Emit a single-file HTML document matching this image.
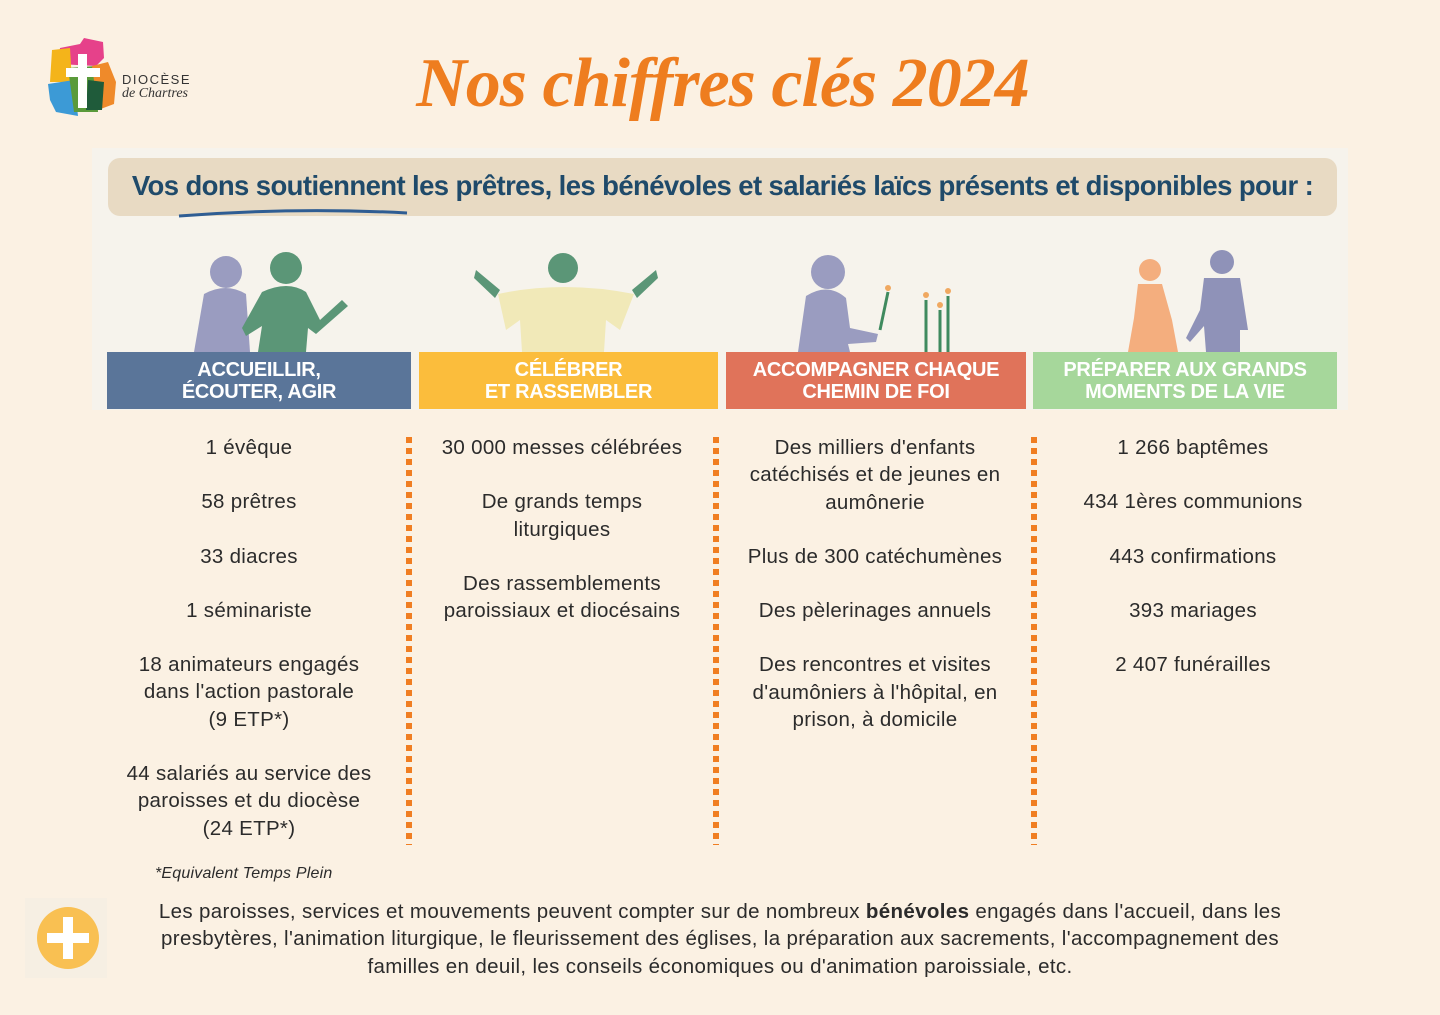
<!DOCTYPE html>
<html><head><meta charset="utf-8"><style>
body{margin:0;width:1440px;height:1015px;background:#fbf1e3;position:relative;overflow:hidden;font-family:"Liberation Sans",sans-serif;color:#2b2b2b}
.a{position:absolute}
.col{position:absolute;top:434px;text-align:center;font-size:20.5px;line-height:27.3px;letter-spacing:0.3px}
.col p{margin:0 0 27px 0}
.ban{position:absolute;top:352px;height:57px;color:#fff;font-weight:bold;font-size:20px;line-height:22px;text-align:center;display:flex;align-items:center;justify-content:center;letter-spacing:-0.3px}
.dot{position:absolute;top:437px;height:408px;width:6px;background:repeating-linear-gradient(#f07e22 0 6px,transparent 6px 11px)}
</style></head><body>
<!-- logo -->
<svg class="a" style="left:48px;top:38px" width="72" height="80">
<path d="M12 10 L32 6 L36 0 L55 4 L56 20 L48 28 L10 26Z" fill="#e6418a"/>
<path d="M4 12 L22 10 L24 44 L2 44Z" fill="#f4b41a"/>
<path d="M0 46 L26 42 L30 78 L8 74 L2 62Z" fill="#3c9ad6"/>
<path d="M20 30 L48 28 L50 74 L26 74Z" fill="#5a9a3a"/>
<path d="M44 28 L60 24 L68 44 L66 66 L50 72Z" fill="#ef8a2a"/>
<path d="M40 42 L56 44 L54 72 L38 72Z" fill="#1f5b3a"/>
<rect x="30" y="16" width="9" height="54" fill="#fff"/><rect x="18" y="30" width="34" height="9" fill="#fff"/>
</svg>
<div class="a" style="left:122px;top:72px;font-size:13px;letter-spacing:1.5px;color:#333">DIOCÈSE</div>
<div class="a" style="left:122px;top:86px;font-size:14px;font-style:italic;font-family:'Liberation Serif',serif;color:#333">de Chartres</div>
<div class="a" style="left:400px;top:44px;width:645px;text-align:center;font-family:'Liberation Serif',serif;font-weight:bold;font-style:italic;font-size:70px;color:#ee7d1f;letter-spacing:-1px">Nos chiffres clés 2024</div>
<!-- panel -->
<div class="a" style="left:92px;top:148px;width:1256px;height:262px;background:#f6f3ec"></div>
<div class="a" style="left:108px;top:158px;width:1229px;height:58px;background:#e8dac3;border-radius:12px"></div>
<div class="a" style="left:108px;top:170px;width:1229px;text-align:center;font-size:27.5px;font-weight:bold;color:#1f4a6a;letter-spacing:-0.6px">Vos dons soutiennent les prêtres, les bénévoles et salariés laïcs présents et disponibles pour :</div>
<svg class="a" style="left:175px;top:205px" width="240" height="16"><path d="M4 11 Q120 2 232 8" stroke="#2f5d93" stroke-width="3" fill="none"/></svg>
<!-- figures -->
<svg class="a" style="left:0;top:230px" width="1440" height="122">
<g fill="#9a9cc0"><circle cx="226" cy="42" r="16"/><path d="M204 64 Q226 52 246 64 L250 122 L194 122Z"/></g>
<g fill="#5b9677"><circle cx="286" cy="38" r="16"/><path d="M262 62 Q288 50 306 62 L320 90 L342 70 L348 76 L316 104 L308 98 L306 122 L258 122 L262 96 L246 106 L242 98Z"/></g>
<g fill="#5b9677"><circle cx="563" cy="38" r="15"/><path d="M476 40 L500 60 L495 68 L474 48Z"/><path d="M656 40 L632 60 L637 68 L658 48Z"/></g>
<path d="M498 64 Q563 50 634 64 L620 100 L606 90 L604 122 L522 122 L520 90 L506 100Z" fill="#f1e9b8"/>
<g fill="#9a9cc0"><circle cx="828" cy="42" r="17"/><path d="M806 66 Q828 52 846 68 L850 98 L878 104 L876 112 L848 114 L850 122 L798 122Z"/></g>
<g stroke="#3f8a5e" stroke-width="3"><line x1="880" y1="100" x2="888" y2="62"/><line x1="926" y1="122" x2="926" y2="70"/><line x1="940" y1="122" x2="940" y2="80"/><line x1="948" y1="122" x2="948" y2="66"/></g>
<g fill="#f0a860"><circle cx="888" cy="58" r="3"/><circle cx="926" cy="65" r="3"/><circle cx="940" cy="75" r="3"/><circle cx="948" cy="61" r="3"/></g>
<g fill="#f4ae7e"><circle cx="1150" cy="40" r="11"/><path d="M1138 54 L1162 54 L1172 90 L1178 122 L1128 122 L1134 88Z"/></g>
<g fill="#8f92b8"><circle cx="1222" cy="32" r="12"/><path d="M1204 48 L1240 48 L1248 100 L1240 100 L1240 122 L1206 122 L1204 96 L1190 112 L1186 108 L1200 80Z"/></g>
</svg>
<!-- banners -->
<div class="ban" style="left:107px;width:304px;background:#5a7599">ACCUEILLIR,<br>ÉCOUTER, AGIR</div>
<div class="ban" style="left:419px;width:299px;background:#fbbd3c">CÉLÉBRER<br>ET RASSEMBLER</div>
<div class="ban" style="left:726px;width:300px;background:#e0735a">ACCOMPAGNER CHAQUE<br>CHEMIN DE FOI</div>
<div class="ban" style="left:1033px;width:304px;background:#a6d79b">PRÉPARER AUX GRANDS<br>MOMENTS DE LA VIE</div>
<div class="dot" style="left:406px"></div><div class="dot" style="left:713px"></div><div class="dot" style="left:1031px"></div>
<div class="col" style="left:104px;width:290px"><p>1 évêque</p><p>58 prêtres</p><p>33 diacres</p><p>1 séminariste</p><p>18 animateurs engagés<br>dans l'action pastorale<br>(9 ETP*)</p><p>44 salariés au service des<br>paroisses et du diocèse<br>(24 ETP*)</p></div>
<div class="col" style="left:417px;width:290px"><p>30 000 messes célébrées</p><p>De grands temps<br>liturgiques</p><p>Des rassemblements<br>paroissiaux et diocésains</p></div>
<div class="col" style="left:720px;width:310px"><p>Des milliers d'enfants<br>catéchisés et de jeunes en<br>aumônerie</p><p>Plus de 300 catéchumènes</p><p>Des pèlerinages annuels</p><p>Des rencontres et visites<br>d'aumôniers à l'hôpital, en<br>prison, à domicile</p></div>
<div class="col" style="left:1038px;width:310px"><p>1 266 baptêmes</p><p>434 1ères communions</p><p>443 confirmations</p><p>393 mariages</p><p>2 407 funérailles</p></div>
<div class="a" style="left:155px;top:865px;font-size:16px;font-style:italic;letter-spacing:0.2px">*Equivalent Temps Plein</div>
<div class="a" style="left:25px;top:898px;width:82px;height:80px;background:#f6efe3"></div>
<div class="a" style="left:37px;top:907px;width:62px;height:62px;border-radius:50%;background:#f9c052"></div>
<div class="a" style="left:63px;top:917px;width:10px;height:42px;background:#fff"></div>
<div class="a" style="left:47px;top:933px;width:42px;height:10px;background:#fff"></div>
<div class="a" style="left:120px;top:898px;width:1200px;text-align:center;font-size:20.5px;line-height:27.3px;letter-spacing:0.35px">Les paroisses, services et mouvements peuvent compter sur de nombreux <b>bénévoles</b> engagés dans l'accueil, dans les presbytères, l'animation liturgique, le fleurissement des églises, la préparation aux sacrements, l'accompagnement des<br>familles en deuil, les conseils économiques ou d'animation paroissiale, etc.</div>
</body></html>
